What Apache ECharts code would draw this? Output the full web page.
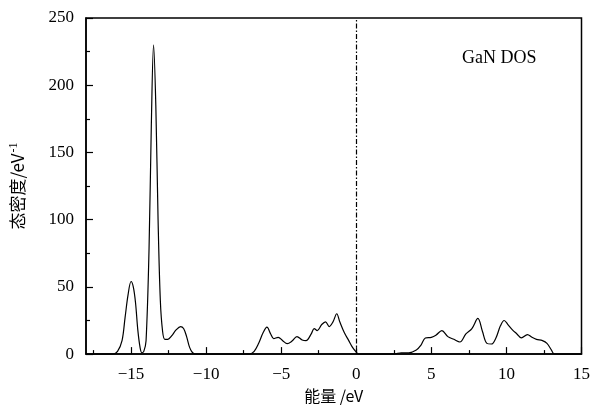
<!DOCTYPE html>
<html>
<head>
<meta charset="utf-8">
<script src="https://cdn.jsdelivr.net/npm/echarts@6/dist/echarts.min.js"></script>
<style>
  html, body { margin: 0; padding: 0; background: #fff; }
  #chart { width: 593px; height: 409px; }
</style>
</head>
<body>
<div id="chart"></div>
<script>
  // 能量 (eV)
  var energy = [
    -18, -16.2, -15.9, -15.6, -15.4, -15.2, -15.0, -14.85, -14.7, -14.55, -14.4, -14.28,
    -14.15, -14.0, -13.8, -13.65, -13.5, -13.35, -13.2, -13.05, -12.9, -12.75, -12.55, -12.3,
    -12.0, -11.7, -11.5, -11.3, -11.1, -10.9, -10.7,
    -7.1, -6.8, -6.5, -6.2, -5.95, -5.7, -5.5, -5.2, -4.9, -4.6, -4.3, -3.95, -3.6, -3.35,
    -3.0, -2.8, -2.6, -2.3, -2.05, -1.8, -1.55, -1.3, -1.1, -0.8, -0.5, -0.25, 0, 0.15,
    2.5, 3.0, 3.5, 4.0, 4.3, 4.6, 5.0, 5.3, 5.7, 6.1, 6.5, 6.9, 7.3, 7.7, 8.1, 8.4, 8.7,
    9.0, 9.3, 9.6, 9.85, 10.1, 10.4, 10.7, 11.0, 11.4, 11.7, 12.0, 12.4, 12.7, 13.0, 13.2, 15
  ]
  // 态密度 (eV^-1)
  var dos = [
    0, 0, 2, 10, 27, 44, 54, 50, 38, 18, 5, 1,
    2, 10, 79, 170, 230, 185, 100, 40, 17, 11, 11, 13.5,
    18, 20.5, 19, 13, 5, 1, 0,
    0, 2, 8, 16, 20, 15, 11.5, 12.5, 10, 7.8, 9.5, 13, 10.5, 10,
    15, 19, 17.5, 22, 24, 20.5, 24, 30, 24, 16, 10, 5, 1.5, 0,
    0, 1, 1, 3, 6.5, 12, 12.5, 14, 17.5, 13, 11, 9, 15, 19, 26.5, 17, 8,
    7.5, 12, 21, 25, 22, 18, 15, 12, 14.5, 12.5, 11, 10, 8, 3, 0, 0
  ]
  var xMajorTicks = [-15, -10, -5, 0, 5, 10, 15]
  var xMinorTicks = [-17.5, -12.5, -7.5, -2.5, 2.5, 7.5, 12.5]

  var serif = '"Liberation Serif", "DejaVu Serif", serif'
  var cjk = '"Noto Sans CJK SC", sans-serif'

  var chart = echarts.init(document.getElementById('chart'))
  chart.setOption({
    animation: false,
    grid: {
      left: 86, right: 11, top: 18, bottom: 52,
      show: true,
      borderColor: '#000',
      borderWidth: 1.5
    },
    xAxis: [
      {
        type: 'value',
        min: -18, max: 15,
        name: '能量 /eV',
        nameLocation: 'middle',
        nameGap: 32,
        nameTextStyle: { fontFamily: cjk, fontSize: 16, color: '#000' },
        axisLine: { show: true, onZero: false, lineStyle: { color: '#000', width: 1.5 } },
        axisTick: { show: true, inside: true, length: 7, customValues: xMajorTicks, lineStyle: { color: '#000', width: 1.2 } },
        axisLabel: {
          customValues: xMajorTicks,
          margin: 12,
          fontFamily: serif, fontSize: 17, color: '#000',
          formatter: function (v) { return String(v).replace('-', '\u2212') }
        },
        splitLine: { show: false }
      },
      {
        // 次刻度
        type: 'value',
        min: -18, max: 15,
        position: 'bottom',
        axisLine: { show: false, onZero: false },
        axisTick: { show: true, inside: true, length: 4, customValues: xMinorTicks, lineStyle: { color: '#000', width: 1.2 } },
        axisLabel: { show: false },
        splitLine: { show: false }
      }
    ],
    yAxis: {
      type: 'value',
      min: 0, max: 250, interval: 50,
      name: '{a|态密度/eV}{b|-1}',
      nameLocation: 'middle',
      nameGap: 58,
      nameTextStyle: {
        rich: {
          a: { fontFamily: cjk, fontSize: 17, color: '#000' },
          b: { fontFamily: serif, fontSize: 12, color: '#000', padding: [0, 0, 8, 1] }
        }
      },
      axisLine: { show: true, onZero: false, lineStyle: { color: '#000', width: 1.5 } },
      axisTick: { show: true, inside: true, length: 7, lineStyle: { color: '#000', width: 1.2 } },
      minorTick: { show: true, splitNumber: 2, length: 4, lineStyle: { color: '#000', width: 1.2 } },
      axisLabel: { margin: 12, fontFamily: serif, fontSize: 17, color: '#000' },
      splitLine: { show: false }
    },
    graphic: [
      {
        type: 'text',
        left: 462, top: 49,
        style: { text: 'GaN DOS', font: '18px ' + serif, fill: '#000' }
      }
    ],
    series: [
      {
        type: 'line',
        data: energy.map(function (e, i) { return [e, dos[i]] }),
        smooth: 0.35,
        showSymbol: false,
        lineStyle: { color: '#000', width: 1.2 },
        markLine: {
          silent: true,
          symbol: 'none',
          label: { show: false },
          lineStyle: { color: '#000', width: 1.2, type: [5, 2, 1.5, 2] },
          data: [{ xAxis: 0 }]
        }
      }
    ]
  })
</script>
</body>
</html>
